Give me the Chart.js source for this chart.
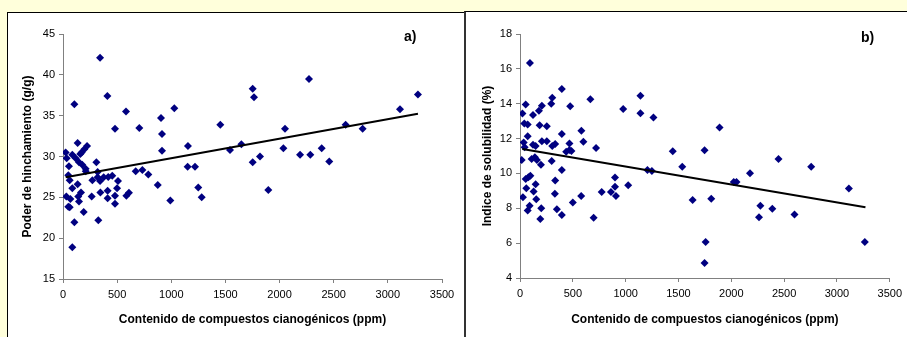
<!DOCTYPE html>
<html>
<head>
<meta charset="utf-8">
<script src="https://cdn.jsdelivr.net/npm/chart.js@4.4.1/dist/chart.umd.min.js"></script>
<style>
  html, body { margin: 0; padding: 0; }
  body { width: 907px; height: 337px; background: #FFFFDB; position: relative; overflow: hidden; }
  .panel { position: absolute; background: #fff; }
  #panelA { left: 7px; top: 12px; width: 457px; height: 330px; border-top: 1px solid #000; border-left: 1px solid #000; }
  #panelB { left: 464px; top: 11px; width: 443px; height: 330px; border-top: 1px solid #000; border-left: 2px solid #333; }
  canvas { position: absolute; left: 0; top: 0; }
  .tag { position: absolute; font: bold 14px "Liberation Sans", Arial, sans-serif; color: #000; }
</style>
</head>
<body>
<div class="panel" id="panelA">
  <canvas id="chartA" width="456" height="324"></canvas>
  <div class="tag" style="left:396px; top:15px;">a)</div>
</div>
<div class="panel" id="panelB">
  <canvas id="chartB" width="441" height="325"></canvas>
  <div class="tag" style="left:395px; top:17px;">b)</div>
</div>
<script>
// a) Poder de hinchamiento vs contenido de compuestos cianogénicos
const xA = [105, 342, 410, 582, 480, 705, 905, 914, 914, 1028, 1154, 1453, 1542, 1647, 1752, 1764, 1752, 1819,
  2035, 2050, 2189, 2272, 2284, 2389, 2459, 2610, 2767, 3112, 3278, 1896, 1151, 1219, 1249, 1281, 991,
  135, 222, 197, 172, 25, 86, 34, 117, 148, 178, 209, 55, 308, 49, 62, 320, 376, 418, 455, 320, 271, 342,
  671, 733, 788, 508, 875, 135, 86, 499, 412, 345, 166, 141, 31, 68, 265, 480, 609, 585, 148, 412, 480,
  49, 62, 191, 326, 105, 86, 210, 160];
const yA = [36.4, 42.1, 37.4, 35.5, 33.4, 33.5, 34.7, 32.75, 30.7, 35.9, 31.3, 33.9, 30.8, 31.5, 38.3, 37.25, 29.3, 30.0,
  31.0, 33.4, 30.2, 39.5, 30.2, 31.0, 29.4, 33.9, 33.4, 35.8, 37.6, 25.9, 28.75, 28.75, 26.2, 25.0, 24.6,
  31.65, 31.3, 30.9, 30.5, 30.5, 30.2, 29.8, 29.8, 29.3, 29.0, 28.5, 28.8, 29.3, 27.7, 27.1, 28.1, 27.45, 27.5, 27.65, 27.45, 27.1, 27.0,
  28.2, 28.35, 27.8, 27.0, 26.5, 26.6, 26.1, 26.1, 25.8, 25.6, 25.6, 25.1, 25.1, 24.8, 25.1, 25.2, 25.55, 25.2, 24.5, 24.9, 24.2,
  23.85, 23.8, 23.2, 22.2, 21.95, 18.9, 28.2, 30.3];
const trendAX = [25, 3278];
const trendAY = [27.45, 35.24];

// b) Indice de solubilidad vs contenido de compuestos cianogénicos
const xB = [94, 396, 305, 296, 207, 179, 123, 54, 23, 475, 666, 977, 1140, 1140, 1263, 41, 73, 186, 254, 581,
  1889, 73, 396, 600, 720, 1446, 1747, 2447, 2756, 1536, 35, 44, 123, 148, 207, 254, 305, 333, 468,
  437, 468, 487, 110, 141, 160, 198, 16, 300, 396, 1206, 1248, 54, 79, 98, 333, 60, 148, 129, 28, 154,
  330, 579, 773, 861, 899, 899, 908, 1024, 91, 73, 201, 349, 500, 192, 396, 697, 1634, 1810, 1757, 1747,
  2177, 2023, 2049, 2275, 2262, 2388, 2598, 3113, 3264];
const yB = [16.34, 14.84, 14.34, 14.0, 13.88, 13.6, 13.35, 13.95, 13.44, 13.85, 14.26, 13.7, 14.45, 13.46, 13.21, 12.87, 12.81, 12.77, 12.7, 12.45,
  12.64, 12.13, 12.26, 11.82, 11.46, 11.27, 11.33, 10.83, 10.39, 10.39, 11.78, 11.5, 11.65, 11.58, 11.84, 11.84, 11.57, 11.69, 11.72,
  11.25, 11.34, 11.29, 10.83, 10.93, 10.77, 10.5, 10.77, 10.71, 10.2, 10.2, 10.14, 9.68, 9.78, 9.87, 9.59, 9.15, 9.38, 8.96, 8.64, 8.52,
  8.83, 8.71, 8.94, 8.94, 9.76, 9.24, 8.71, 9.32, 8.14, 7.87, 8.0, 7.95, 8.33, 7.38, 7.62, 7.45, 8.48, 8.54, 6.06, 4.86,
  10.01, 9.51, 9.51, 8.14, 7.49, 7.98, 7.64, 9.13, 6.06];
const trendBX = [22, 3270];
const trendBY = [11.4, 8.06];

const xTitle = 'Contenido de compuestos cianogénicos (ppm)';

Chart.defaults.font.family = '"Liberation Sans", Arial, sans-serif';
Chart.defaults.color = '#000';

function pairs(xs, ys) {
  return xs.map((x, i) => ({ x: x, y: ys[i] }));
}

function makeChart(id, pts, trend, yMin, yMax, yStep, yTitle, dims) {
  const ctx = document.getElementById(id).getContext('2d');
  return new Chart(ctx, {
    type: 'scatter',
    data: {
      datasets: [{
        type: 'line',
        data: trend,
        borderColor: '#000',
        borderWidth: 2,
        pointRadius: 0,
        fill: false
      }, {
        data: pts,
        pointStyle: 'rectRot',
        pointRadius: 4,
        pointHoverRadius: 4,
        backgroundColor: '#000080',
        borderColor: '#000080',
        borderWidth: 0
      }]
    },
    options: {
      responsive: false,
      animation: false,
      devicePixelRatio: 1,
      layout: { padding: { left: 0, right: dims.right, top: dims.top, bottom: 0 } },
      plugins: { legend: { display: false }, tooltip: { enabled: false } },
      scales: {
        x: {
          type: 'linear', min: 0, max: 3500,
          ticks: { stepSize: 500, maxRotation: 0, padding: 5, font: { size: 11 }, callback: v => String(v) },
          grid: { drawOnChartArea: false, tickLength: 4, color: '#808080' },
          border: { color: '#808080' },
          title: { display: true, text: xTitle, font: { size: 12, weight: 'bold' }, padding: { top: 0, bottom: 10 } },
          afterFit: s => { s.height = dims.xh; }
        },
        y: {
          min: yMin, max: yMax,
          ticks: { stepSize: yStep, padding: 4, font: { size: 11 }, callback: v => String(v) },
          grid: { drawOnChartArea: false, tickLength: 4, color: '#808080' },
          border: { color: '#808080' },
          title: { display: true, text: yTitle, font: { size: 12, weight: 'bold' }, padding: { top: dims.tp, bottom: 0 } },
          afterFit: s => { s.width = dims.yw; }
        }
      }
    }
  });
}

makeChart('chartA', pairs(xA, yA), pairs(trendAX, trendAY), 15, 45, 5,
  'Poder de hinchamiento (g/g)', { right: 22, top: 21, xh: 58, yw: 55, tp: 12 });
makeChart('chartB', pairs(xB, yB), pairs(trendBX, trendBY), 4, 18, 2,
  'Indice de solubilidad (%)', { right: 15, top: 22, xh: 59, yw: 54, tp: 14 });
</script>
</body>
</html>
